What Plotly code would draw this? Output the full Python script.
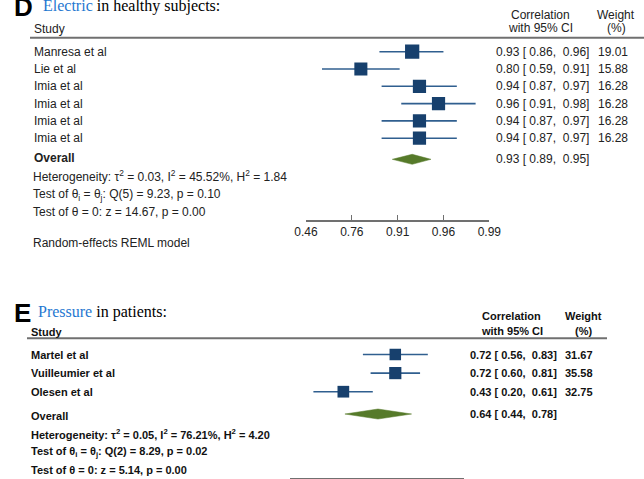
import numpy as np
import plotly.graph_objects as go

W, H = 644, 479

# ---------------- data: panel D (Electric, healthy subjects) ----------------
d_studies = ["Manresa et al", "Lie et al", "Imia et al", "Imia et al", "Imia et al", "Imia et al"]
d_r = [0.93, 0.80, 0.94, 0.96, 0.94, 0.94]
d_lo = [0.862, 0.588, 0.868, 0.912, 0.868, 0.868]
d_hi = [0.964, 0.909, 0.973, 0.982, 0.973, 0.973]
d_w = [19.01, 15.88, 16.28, 16.28, 16.28, 16.28]
d_overall = [0.93, 0.894, 0.953]
d_tick_z = [0.5, 1.0, 1.5, 2.0, 2.5]
d_tick_labels = ["0.46", "0.76", "0.91", "0.96", "0.99"]
d_stats = [
    "Heterogeneity: τ<sup>2</sup> = 0.03, I<sup>2</sup> = 45.52%, H<sup>2</sup> = 1.84",
    "Test of θ<sub>i</sub> = θ<sub>j</sub>: Q(5) = 9.23, p = 0.10",
    "Test of θ = 0: z = 14.67, p = 0.00",
]

# ---------------- data: panel E (Pressure, patients) ----------------
e_studies = ["Martel et al", "Vuilleumier et al", "Olesen et al"]
e_r = [0.72, 0.72, 0.43]
e_lo = [0.557, 0.601, 0.199]
e_hi = [0.830, 0.808, 0.613]
e_w = [31.67, 35.58, 32.75]
e_overall = [0.64, 0.441, 0.781]
e_stats = [
    "Heterogeneity: τ<sup>2</sup> = 0.05, I<sup>2</sup> = 76.21%, H<sup>2</sup> = 4.20",
    "Test of θ<sub>i</sub> = θ<sub>j</sub>: Q(2) = 8.29, p = 0.02",
    "Test of θ = 0: z = 5.14, p = 0.00",
]

SANS = "Liberation Sans, Arial, sans-serif"
SERIF = "Liberation Serif, Times New Roman, serif"
SQ = "#17406d"
CI = "#305f8f"
DIA = "#567a2a"
GRID = "#707070"


def px(x):
    return x / W


def py(y):
    return 1 - y / H


fig = go.Figure()
ann = []
shapes = []


def panel(studies, r, lo, hi, w, overall, xa, ya, size_ref, txt_col, bold, x_lab, x_val, x_wt,
          ovr_off, dia_h, ovr_lab_off, fs):
    n = len(studies)
    rows = np.arange(1, n + 1)
    z, zl, zh = np.arctanh(r), np.arctanh(lo), np.arctanh(hi)
    xs, ys = [], []
    for a, b, yy in zip(zl, zh, rows):
        xs += [a, b, None]
        ys += [yy, yy, None]
    fig.add_trace(go.Scatter(x=xs, y=ys, mode="lines", line=dict(color=CI, width=1.6),
                             xaxis=xa, yaxis=ya, hoverinfo="skip", showlegend=False))
    sizes = [size_ref[0] * np.sqrt(wi / size_ref[1]) for wi in w]
    fig.add_trace(go.Scatter(x=z, y=rows, mode="markers",
                             marker=dict(symbol="square", size=sizes, color=SQ, opacity=1,
                                         line=dict(width=0)),
                             xaxis=xa, yaxis=ya, hoverinfo="skip", showlegend=False))
    orow = n + ovr_off
    oz, ol, oh = np.arctanh(overall)
    fig.add_trace(go.Scatter(x=[ol, oz, oh, oz, ol], y=[orow, orow - dia_h, orow, orow + dia_h, orow],
                             mode="lines", fill="toself", fillcolor=DIA, line=dict(color=DIA, width=0.5),
                             xaxis=xa, yaxis=ya, hoverinfo="skip", showlegend=False))
    yref = "y" if ya == "y" else "y2"

    def t(s):
        return f"<b>{s}</b>" if bold else s

    def a(x, y, s, anchor="left"):
        ann.append(dict(x=px(x), y=y, xref="paper", yref=yref, text=s,
                        xanchor=anchor, yanchor="middle", showarrow=False,
                        font=dict(family=SANS, size=fs, color=txt_col)))

    for i in range(n):
        a(x_lab, rows[i], t(studies[i]))
        a(x_val, rows[i], t(f"{r[i]:.2f} [ {lo[i]:.2f},  {hi[i]:.2f}]"))
        a(x_wt, rows[i], t(f"{w[i]:.2f}"), "right")
    a(x_lab, orow + ovr_lab_off, "<b>Overall</b>")
    a(x_val, orow, t(f"{overall[0]:.2f} [ {overall[1]:.2f},  {overall[2]:.2f}]"))


def text(x, y, s, size=12, color="#222", family=SANS, xanchor="left"):
    ann.append(dict(x=px(x), y=py(y), xref="paper", yref="paper", text=s, xanchor=xanchor,
                    yanchor="middle", showarrow=False, font=dict(family=family, size=size, color=color)))


# ----- Panel D -----
panel(d_studies, d_r, d_lo, d_hi, d_w, d_overall, "x", "y", (13.2, 16.28), "#222", False,
      32, 494, 630, 1.22, 0.29, -0.1, 12)
text(12, 7.5, "<b>D</b>", size=26, color="#000")
text(41, 5.5, "<span style='color:#1f78d1'>Electric</span> in healthy subjects:", size=16, color="#000", family=SERIF)
text(32, 29, "Study")
text(540, 15, "Correlation", xanchor="center")
text(540, 28.5, "with 95% CI", xanchor="center")
text(616, 15, "Weight", xanchor="center")
text(616, 28.5, "(%)", xanchor="center")
for s, yy in zip(d_stats, [176.5, 194.5, 211.5]):
    text(31, yy, s)
text(31, 243, "Random-effects REML model", color="#222")
shapes.append(dict(type="line", xref="paper", yref="paper", x0=px(30), x1=px(644), y0=py(37.7), y1=py(37.7),
                   line=dict(color=GRID, width=2)))

# ----- Panel E -----
panel(e_studies, e_r, e_lo, e_hi, e_w, e_overall, "x2", "y2", (11.5, 31.67), "#111", True,
      29, 468, 595, 1.2, 0.27, 0.1, 11)
text(12, 312.5, "<b>E</b>", size=26, color="#000")
text(36, 311.7, "<span style='color:#1f78d1'>Pressure</span> in patients:", size=16, color="#000", family=SERIF)
text(29, 331.5, "<b>Study</b>", size=11, color="#111")
text(512, 316, "<b>Correlation</b>", size=11, color="#111", xanchor="center")
text(512, 330.5, "<b>with 95% CI</b>", size=11, color="#111", xanchor="center")
text(583, 316, "<b>Weight</b>", size=11, color="#111", xanchor="center")
text(583, 330.5, "<b>(%)</b>", size=11, color="#111", xanchor="center")
for s, yy in zip(e_stats, [434, 452.3, 470]):
    text(29, yy, f"<b>{s}</b>", size=11, color="#111")
shapes.append(dict(type="line", xref="paper", yref="paper", x0=px(27), x1=px(607), y0=py(338.3), y1=py(338.3),
                   line=dict(color=GRID, width=2)))

# ----- axes -----
d_row0, d_step = 51.7, 17.3
e_row0, e_step = 354.5, 18.6
fig.update_layout(
    width=W, height=H, margin=dict(l=0, r=0, t=0, b=0, pad=0, autoexpand=False),
    paper_bgcolor="white", plot_bgcolor="rgba(0,0,0,0)",
    xaxis=dict(domain=[px(306), px(489.3)], range=[d_tick_z[0], d_tick_z[-1]], anchor="y",
               automargin=False,
               showgrid=False, zeroline=False, showline=True, linecolor=GRID, linewidth=1.5,
               ticks="inside", ticklen=5, tickwidth=1.3, tickcolor=GRID,
               tickvals=d_tick_z, ticktext=d_tick_labels,
               tickfont=dict(family=SANS, size=12, color="#222")),
    yaxis=dict(domain=[py(220), 1], automargin=False,
               range=[1 + (220 - d_row0) / d_step, 1 - d_row0 / d_step],
               visible=False, showgrid=False, zeroline=False),
    xaxis2=dict(domain=[px(290), px(464)], range=[0, 1.5], anchor="y2", automargin=False,
                showgrid=False, zeroline=False, showline=True, linecolor=GRID, linewidth=2,
                ticks="", showticklabels=False),
    yaxis2=dict(domain=[py(478), py(300)], automargin=False,
                range=[1 + (478 - e_row0) / e_step, 1 - (e_row0 - 300) / e_step],
                visible=False, showgrid=False, zeroline=False),
    annotations=ann, shapes=shapes,
)

fig.write_html("out.html")
